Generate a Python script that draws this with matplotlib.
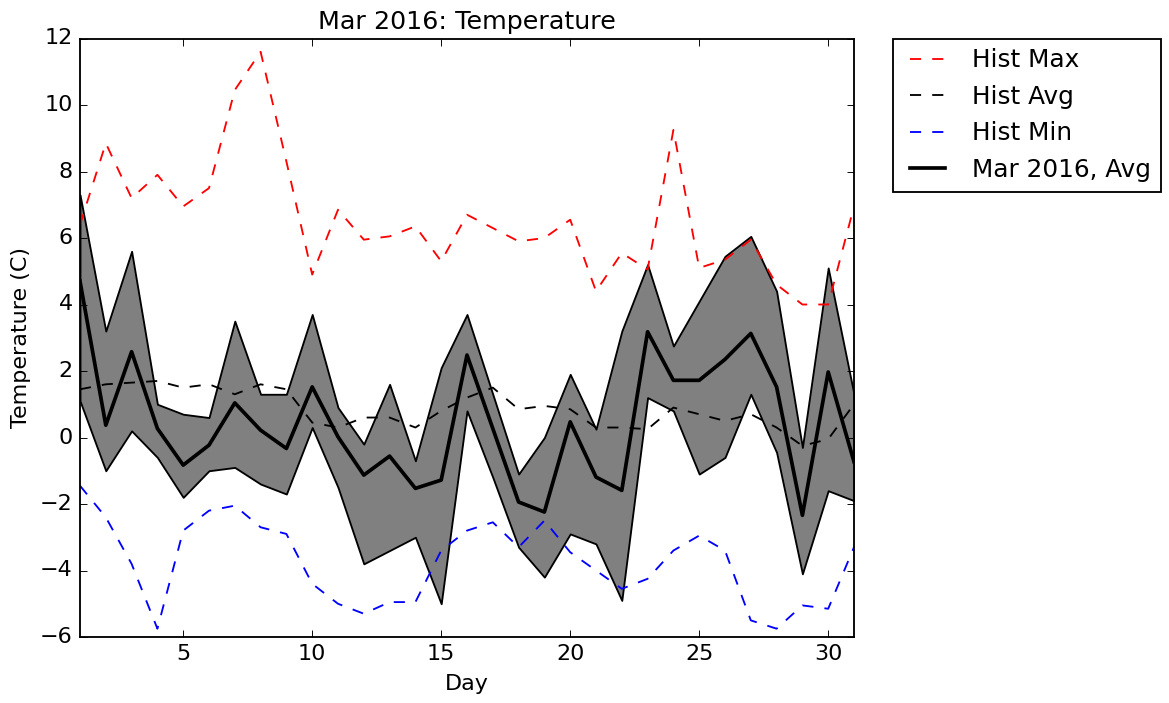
import numpy as np
import matplotlib
matplotlib.use("Agg")
import matplotlib.pyplot as plt

days = np.arange(1, 32)

# historical daily stats
hist_max = [6.4, 8.85, 7.2, 7.9, 6.95, 7.5, 10.45, 11.6, 8.3, 4.9,
            6.85, 5.95, 6.05, 6.35, 5.3, 6.7, 6.3, 5.9, 6.0, 6.55,
            4.4, 5.55, 5.05, 9.25, 5.1, 5.35, 5.95, 4.6, 4.0, 4.0, 6.95]
hist_avg = [1.45, 1.6, 1.65, 1.7, 1.5, 1.6, 1.3, 1.6, 1.45, 0.45,
            0.3, 0.6, 0.6, 0.3, 0.8, 1.2, 1.5, 0.85, 0.95, 0.85,
            0.3, 0.3, 0.25, 0.9, 0.7, 0.5, 0.7, 0.3, -0.25, -0.05, 1.0]
hist_min = [-1.45, -2.4, -3.8, -5.75, -2.8, -2.2, -2.05, -2.7, -2.9, -4.4,
            -5.0, -5.3, -4.95, -4.95, -3.4, -2.8, -2.55, -3.3, -2.5, -3.45,
            -4.0, -4.55, -4.25, -3.4, -2.95, -3.4, -5.5, -5.75, -5.05, -5.15, -3.3]

# this month
mar_hi = [7.3, 3.2, 5.6, 1.0, 0.7, 0.6, 3.5, 1.3, 1.3, 3.7,
          0.9, -0.2, 1.6, -0.7, 2.1, 3.7, 1.3, -1.1, 0.0, 1.9,
          0.25, 3.2, 5.2, 2.75, 4.1, 5.45, 6.05, 4.4, -0.3, 5.1, 1.3]
mar_lo = [1.1, -1.0, 0.2, -0.6, -1.8, -1.0, -0.9, -1.4, -1.7, 0.3,
          -1.5, -3.8, -3.4, -3.0, -5.0, 0.8, -1.2, -3.3, -4.2, -2.9,
          -3.2, -4.9, 1.2, 0.8, -1.1, -0.6, 1.3, -0.45, -4.1, -1.6, -1.9]
mar_avg = [4.7, 0.37, 2.58, 0.27, -0.83, -0.23, 1.04, 0.22, -0.33, 1.52,
           0.02, -1.13, -0.56, -1.53, -1.28, 2.48, 0.27, -1.94, -2.24, 0.47,
           -1.19, -1.59, 3.18, 1.72, 1.72, 2.35, 3.13, 1.52, -2.34, 1.97, -0.73]

plt.style.use("classic")
dpi = 133.33
fig = plt.figure(figsize=(1169 / dpi, 703 / dpi), dpi=dpi, facecolor="white")
ax = fig.add_axes([80 / 1169, 66 / 703, 774 / 1169, 598.5 / 703])

ax.plot(days, hist_max, "r--", label="Hist Max")
ax.plot(days, hist_avg, "k--", label="Hist Avg")
ax.plot(days, hist_min, "b--", label="Hist Min")
ax.fill_between(days, mar_lo, mar_hi, facecolor="0.5", edgecolor="k")
ax.plot(days, mar_avg, "k-", lw=2, label="Mar 2016, Avg")

ax.set_xlim(1, 31)
ax.set_ylim(-6, 12)
ax.set_xticks([5, 10, 15, 20, 25, 30])
ax.set_title("Mar 2016: Temperature", fontsize=13.7)
ax.set_xlabel("Day")
ax.set_ylabel("Temperature (C)")
ax.legend(bbox_to_anchor=(1.05, 1), loc=2, borderaxespad=0.0, fontsize=13.4)

fig.savefig("out.png", dpi=dpi, facecolor="white")
